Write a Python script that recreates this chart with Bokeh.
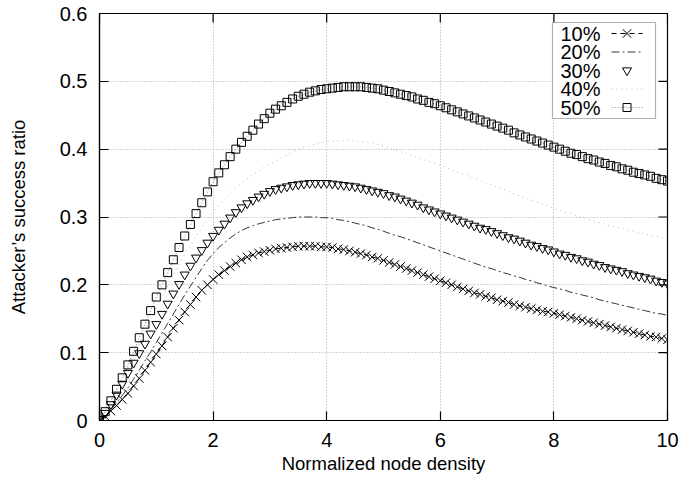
from bokeh.plotting import figure
from bokeh.models import Range1d, FixedTicker, Label, BoxAnnotation, ColumnDataSource
from bokeh.embed import file_html
from bokeh.resources import INLINE

# ---------------- data ----------------
x_density = [i / 10 for i in range(101)]  # sampling grid 0.0 .. 10.0

ratio_10 = [
    0.000, 0.006, 0.014, 0.022, 0.031, 0.040, 0.051, 0.062, 0.074, 0.086,
    0.098, 0.110, 0.123, 0.136, 0.148, 0.160, 0.171, 0.182, 0.192, 0.200,
    0.208, 0.215, 0.221, 0.227, 0.232, 0.237, 0.241, 0.244, 0.247, 0.249,
    0.251, 0.253, 0.254, 0.255, 0.256, 0.257, 0.257, 0.257, 0.257, 0.256,
    0.256, 0.255, 0.253, 0.252, 0.250, 0.248, 0.246, 0.244, 0.241, 0.239,
    0.236, 0.233, 0.230, 0.227, 0.224, 0.221, 0.218, 0.215, 0.212, 0.209,
    0.206, 0.203, 0.200, 0.197, 0.194, 0.191, 0.188, 0.186, 0.183, 0.181,
    0.178, 0.176, 0.174, 0.171, 0.169, 0.167, 0.165, 0.163, 0.161, 0.160,
    0.158, 0.156, 0.154, 0.152, 0.150, 0.148, 0.146, 0.144, 0.142, 0.140,
    0.138, 0.136, 0.134, 0.132, 0.130, 0.128, 0.126, 0.124, 0.123, 0.121,
    0.119]

ratio_20 = [
    0.000, 0.007, 0.016, 0.026, 0.037, 0.048, 0.061, 0.074, 0.088, 0.101,
    0.115, 0.129, 0.143, 0.157, 0.171, 0.185, 0.198, 0.211, 0.224, 0.236,
    0.246, 0.255, 0.262, 0.269, 0.275, 0.280, 0.284, 0.287, 0.290, 0.292,
    0.294, 0.296, 0.297, 0.298, 0.299, 0.300, 0.300, 0.300, 0.300, 0.299,
    0.299, 0.298, 0.296, 0.295, 0.293, 0.291, 0.289, 0.287, 0.284, 0.282,
    0.279, 0.276, 0.273, 0.271, 0.268, 0.265, 0.262, 0.259, 0.256, 0.253,
    0.250, 0.247, 0.244, 0.241, 0.238, 0.235, 0.232, 0.229, 0.226, 0.224,
    0.221, 0.218, 0.216, 0.213, 0.211, 0.208, 0.206, 0.203, 0.201, 0.198,
    0.196, 0.194, 0.192, 0.189, 0.187, 0.185, 0.183, 0.181, 0.178, 0.176,
    0.174, 0.172, 0.170, 0.168, 0.166, 0.164, 0.162, 0.160, 0.158, 0.157,
    0.155]

ratio_30 = [
    0.000, 0.011, 0.024, 0.038, 0.054, 0.070, 0.085, 0.099, 0.113, 0.128,
    0.142, 0.157, 0.172, 0.187, 0.201, 0.215, 0.228, 0.240, 0.251, 0.262,
    0.272, 0.281, 0.290, 0.299, 0.307, 0.314, 0.320, 0.325, 0.330, 0.334,
    0.338, 0.341, 0.343, 0.345, 0.347, 0.348, 0.349, 0.350, 0.350, 0.350,
    0.350, 0.349, 0.348, 0.347, 0.346, 0.345, 0.343, 0.341, 0.339, 0.337,
    0.335, 0.332, 0.330, 0.327, 0.324, 0.321, 0.318, 0.314, 0.311, 0.308,
    0.305, 0.302, 0.299, 0.296, 0.293, 0.290, 0.287, 0.284, 0.282, 0.279,
    0.276, 0.273, 0.270, 0.268, 0.265, 0.262, 0.259, 0.257, 0.254, 0.252,
    0.249, 0.246, 0.244, 0.241, 0.239, 0.236, 0.234, 0.231, 0.229, 0.226,
    0.224, 0.222, 0.220, 0.217, 0.215, 0.213, 0.211, 0.209, 0.206, 0.204,
    0.202]

ratio_40 = [
    0.000, 0.013, 0.028, 0.044, 0.061, 0.078, 0.096, 0.113, 0.131, 0.148,
    0.165, 0.182, 0.198, 0.214, 0.230, 0.245, 0.258, 0.271, 0.284, 0.296,
    0.308, 0.317, 0.326, 0.335, 0.343, 0.350, 0.356, 0.362, 0.368, 0.373,
    0.378, 0.383, 0.387, 0.392, 0.396, 0.400, 0.403, 0.405, 0.407, 0.409,
    0.411, 0.412, 0.412, 0.413, 0.413, 0.412, 0.411, 0.410, 0.409, 0.407,
    0.405, 0.402, 0.399, 0.396, 0.394, 0.391, 0.388, 0.385, 0.382, 0.379,
    0.376, 0.373, 0.370, 0.366, 0.363, 0.360, 0.357, 0.354, 0.350, 0.347,
    0.344, 0.341, 0.338, 0.334, 0.331, 0.328, 0.325, 0.322, 0.319, 0.316,
    0.313, 0.310, 0.307, 0.305, 0.302, 0.299, 0.297, 0.294, 0.292, 0.289,
    0.287, 0.285, 0.283, 0.281, 0.279, 0.277, 0.275, 0.273, 0.272, 0.270,
    0.268]

ratio_50 = [
    0.000, 0.013, 0.029, 0.046, 0.063, 0.082, 0.102, 0.122, 0.142, 0.162,
    0.182, 0.200, 0.218, 0.237, 0.255, 0.272, 0.289, 0.305, 0.321, 0.337,
    0.352, 0.365, 0.377, 0.389, 0.400, 0.410, 0.419, 0.428, 0.437, 0.445,
    0.453, 0.459, 0.464, 0.469, 0.474, 0.478, 0.481, 0.484, 0.486, 0.488,
    0.489, 0.490, 0.491, 0.492, 0.492, 0.492, 0.492, 0.491, 0.490, 0.489,
    0.487, 0.485, 0.483, 0.481, 0.479, 0.477, 0.474, 0.472, 0.469, 0.467,
    0.464, 0.461, 0.458, 0.455, 0.452, 0.449, 0.446, 0.443, 0.440, 0.437,
    0.434, 0.431, 0.428, 0.424, 0.421, 0.418, 0.415, 0.412, 0.409, 0.406,
    0.403, 0.400, 0.397, 0.394, 0.392, 0.389, 0.386, 0.384, 0.381, 0.379,
    0.376, 0.374, 0.371, 0.369, 0.366, 0.364, 0.362, 0.360, 0.357, 0.355,
    0.353]

series_labels = ["10%", "20%", "30%", "40%", "50%"]
x_ticks = [0, 2, 4, 6, 8, 10]
x_tick_labels = ["0", "2", "4", "6", "8", "10"]
y_ticks = [0, 0.1, 0.2, 0.3, 0.4, 0.5, 0.6]
y_tick_labels = ["0", "0.1", "0.2", "0.3", "0.4", "0.5", "0.6"]
x_title = "Normalized node density"
y_title = "Attacker\u2019s success ratio"

# ---------------- style / layout ----------------
FONT = "Liberation Sans"
FS_TICK = "20px"
FS_TITLE = "18.5px"
FRAME_W, FRAME_H = 568, 407
TICK_LEN = 9

p = figure(width=695, height=483, output_backend="svg", toolbar_location=None,
           x_range=Range1d(0, 10), y_range=Range1d(0, 0.6),
           min_border_left=99, min_border_right=28, min_border_top=13, min_border_bottom=63,
           x_axis_label=x_title, y_axis_label=y_title)
p.extra_x_ranges = {"px": Range1d(0, FRAME_W)}
p.extra_y_ranges = {"py": Range1d(0, FRAME_H)}
p.background_fill_color = "white"
p.border_fill_color = "white"
p.outline_line_color = "black"
p.outline_line_width = 1.2

for ax in (p.xaxis[0], p.yaxis[0]):
    ax.axis_line_color = "black"
    ax.axis_line_width = 1.2
    ax.major_tick_in = TICK_LEN
    ax.major_tick_out = 0
    ax.major_tick_line_color = "black"
    ax.major_tick_line_width = 1.2
    ax.minor_tick_line_color = None
    ax.major_label_text_font = FONT
    ax.major_label_text_font_size = FS_TICK
    ax.major_label_text_color = "black"
    ax.axis_label_text_font = FONT
    ax.axis_label_text_font_size = FS_TITLE
    ax.axis_label_text_font_style = "normal"
    ax.axis_label_text_color = "black"

p.xaxis[0].ticker = FixedTicker(ticks=x_ticks)
p.xaxis[0].major_label_overrides = dict(zip(x_ticks, x_tick_labels))
p.yaxis[0].ticker = FixedTicker(ticks=y_ticks)
p.yaxis[0].major_label_overrides = dict(zip(y_ticks, y_tick_labels))
p.xaxis[0].major_label_standoff = 12
p.xaxis[0].axis_label_standoff = 3
p.yaxis[0].major_label_standoff = 12
p.yaxis[0].axis_label_standoff = 28

p.grid.grid_line_color = "#a8a8a8"
p.grid.grid_line_dash = "1 2"
p.grid.grid_line_width = 1

# mirrored inward ticks on the top and right frame edges
p.segment(x0=[FRAME_W - TICK_LEN] * len(y_ticks), x1=[FRAME_W] * len(y_ticks),
          y0=y_ticks, y1=y_ticks, x_range_name="px", line_color="black", line_width=1.2)
p.segment(x0=x_ticks, x1=x_ticks, y0=[FRAME_H - TICK_LEN] * len(x_ticks),
          y1=[FRAME_H] * len(x_ticks), y_range_name="py", line_color="black", line_width=1.2)

src = ColumnDataSource(dict(x=x_density, s10=ratio_10, s20=ratio_20, s30=ratio_30,
                            s40=ratio_40, s50=ratio_50))

STY = {
    "s10": dict(line=dict(line_color="black", line_width=1, line_dash="5 4"),
                marker=dict(marker="x", size=12, line_color="black", line_width=1)),
    "s20": dict(line=dict(line_color="black", line_width=0.8, line_dash="8 3 2 3"), marker=None),
    "s30": dict(line=None,
                marker=dict(marker="inverted_triangle", size=9, fill_color=None,
                            line_color="black", line_width=1)),
    "s40": dict(line=dict(line_color="#b8b8b8", line_width=1, line_dash="1 4"), marker=None),
    "s50": dict(line=dict(line_color="#888888", line_width=1, line_dash="1 2"),
                marker=dict(marker="square", size=8, fill_color=None,
                            line_color="black", line_width=1)),
}
keys = ["s10", "s20", "s30", "s40", "s50"]

for k in keys:
    st = STY[k]
    if st["line"]:
        p.line("x", k, source=src, **st["line"])
    if st["marker"]:
        p.scatter("x", k, source=src, **st["marker"])

# ---------------- legend (gnuplot style: text then key), frame-pixel coords ----------------
LEG_LEFT, LEG_RIGHT, LEG_BOTTOM, LEG_TOP = 453, 556, 302, 398
LEG_ROWS = [387, 368.5, 350, 331.5, 313]
LEG_TEXT_X = 461
LEG_K0, LEG_K1, LEG_KM = 512, 543, 527.5

p.add_layout(BoxAnnotation(left=LEG_LEFT, right=LEG_RIGHT, bottom=LEG_BOTTOM, top=LEG_TOP,
                           x_range_name="px", y_range_name="py",
                           fill_color="white", fill_alpha=1.0,
                           line_color="black", line_width=1.2, level="annotation"))
for k, lab, ry in zip(keys, series_labels, LEG_ROWS):
    st = STY[k]
    p.add_layout(Label(x=LEG_TEXT_X, y=ry, x_range_name="px", y_range_name="py", text=lab,
                       text_font=FONT, text_font_size=FS_TICK, text_color="black",
                       text_baseline="middle", text_align="left", level="overlay"))
    if st["line"]:
        r = p.line([LEG_K0, LEG_K1], [ry, ry], x_range_name="px", y_range_name="py", **st["line"])
        r.level = "overlay"
    if st["marker"]:
        r = p.scatter([LEG_KM], [ry], x_range_name="px", y_range_name="py", **st["marker"])
        r.level = "overlay"

open("out.html", "w").write(file_html(p, INLINE, "chart"))
